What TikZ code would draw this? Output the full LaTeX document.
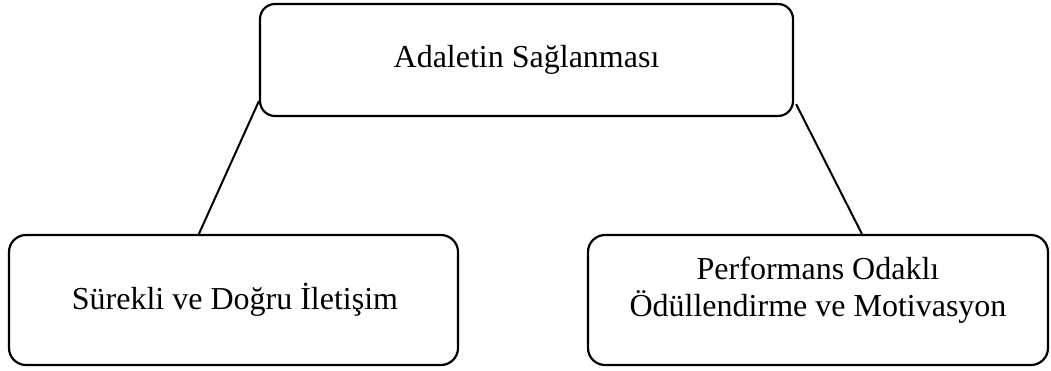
\documentclass[tikz,border=0pt]{standalone}
\usepackage{fontspec}
\setmainfont{Liberation Serif}
\usetikzlibrary{calc}
\begin{document}
\begin{tikzpicture}[x=1pt,y=-1pt,
  card/.style={draw=black, line width=2.2pt, rounded corners=17pt, inner sep=0pt},
  caption/.style={font=\fontsize{32}{37}\selectfont, align=center, inner sep=0pt},
  link/.style={draw=black, line width=2pt}]
\useasboundingbox (0,0) rectangle (1051,370);
% boxes
\node[card, minimum width=533pt, minimum height=112pt, rounded corners=15pt] (top) at (526.5,60) {};
\node[card, minimum width=449pt, minimum height=130pt] (left) at (233.5,300) {};
\node[card, minimum width=460pt, minimum height=130pt] (right) at (818,300) {};
% captions
\node[caption] (ttop) at (526.5,60) {Adaletin Sağlanması};
\node[caption] (tleft) at (235,300) {Sürekli ve Doğru İletişim};
\node[caption] (tright) at (818,290) {Performans Odaklı\\Ödüllendirme ve Motivasyon};
% connectors
\draw[link] ($(top.south west)+(0,-16)$) -- ($(left.north west)+(191,0)$);
\draw[link] ($(top.south east)+(2,-13)$) -- ($(right.north west)+(275,0)$);
\end{tikzpicture}
\end{document}
